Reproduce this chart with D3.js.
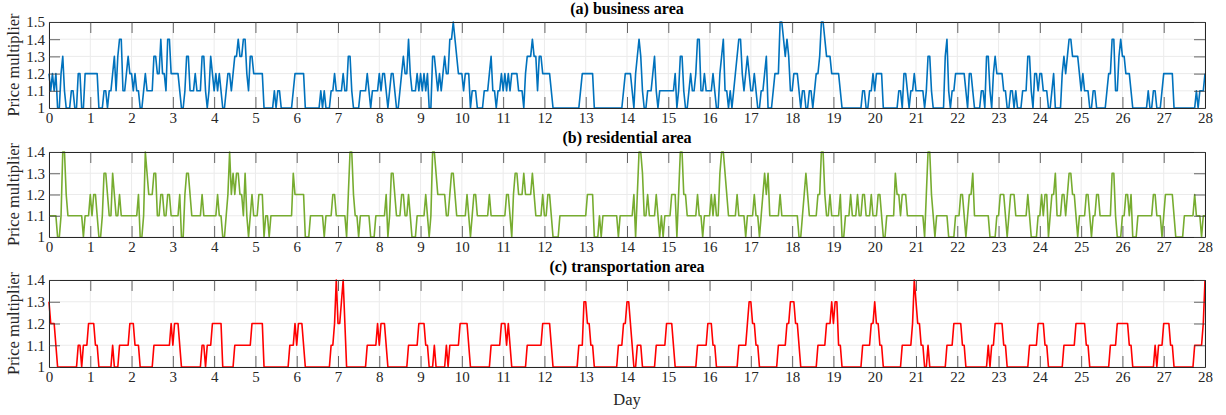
<!DOCTYPE html>
<html>
<head>
<meta charset="utf-8">
<script src="https://cdn.jsdelivr.net/npm/d3@7/dist/d3.min.js"></script>
<style>
  body { margin: 0; background: #fff; }
  svg text { font-family: "Liberation Serif", "Times New Roman", serif; fill: #262626; }
</style>
</head>
<body>
<div id="chart"></div>
<script>
// hourly price multipliers, one row per day (24 values), last row = hour 672
const businessArea = [
  [1.2,1.1,1.2,1.1,1.2,1.0,1.0,1.2,1.3,1.1,1.0,1.0,1.0,1.1,1.1,1.0,1.0,1.2,1.2,1.0,1.0,1.2,1.2,1.2],
  [1.2,1.2,1.2,1.2,1.2,1.0,1.0,1.0,1.1,1.1,1.0,1.1,1.1,1.2,1.3,1.1,1.3,1.4,1.4,1.1,1.1,1.2,1.3,1.2],
  [1.2,1.1,1.2,1.1,1.1,1.0,1.0,1.1,1.2,1.1,1.1,1.1,1.1,1.3,1.3,1.2,1.2,1.4,1.2,1.2,1.1,1.4,1.4,1.2],
  [1.2,1.2,1.2,1.2,1.1,1.0,1.0,1.1,1.3,1.3,1.1,1.1,1.1,1.2,1.1,1.1,1.1,1.3,1.3,1.1,1.0,1.1,1.3,1.2],
  [1.1,1.2,1.1,1.2,1.1,1.0,1.0,1.1,1.2,1.2,1.1,1.2,1.3,1.3,1.4,1.3,1.3,1.4,1.4,1.2,1.1,1.3,1.3,1.2],
  [1.2,1.2,1.2,1.2,1.2,1.0,1.0,1.0,1.0,1.0,1.0,1.1,1.0,1.1,1.1,1.0,1.0,1.0,1.0,1.0,1.0,1.0,1.1,1.2],
  [1.2,1.2,1.2,1.2,1.2,1.0,1.0,1.0,1.0,1.0,1.0,1.0,1.0,1.0,1.1,1.0,1.1,1.0,1.0,1.0,1.1,1.1,1.2,1.1],
  [1.1,1.1,1.1,1.2,1.1,1.1,1.3,1.3,1.1,1.0,1.0,1.0,1.0,1.1,1.1,1.1,1.1,1.2,1.1,1.0,1.1,1.1,1.1,1.1],
  [1.2,1.1,1.2,1.2,1.1,1.0,1.1,1.2,1.2,1.1,1.0,1.0,1.1,1.2,1.3,1.2,1.2,1.4,1.2,1.1,1.1,1.1,1.2,1.1],
  [1.2,1.1,1.2,1.1,1.2,1.0,1.0,1.3,1.3,1.2,1.1,1.2,1.1,1.2,1.3,1.2,1.2,1.4,1.4,1.5,1.4,1.3,1.2,1.2],
  [1.2,1.1,1.2,1.2,1.2,1.0,1.1,1.1,1.1,1.0,1.0,1.0,1.0,1.1,1.1,1.1,1.2,1.3,1.1,1.1,1.0,1.1,1.1,1.2],
  [1.1,1.2,1.1,1.2,1.1,1.2,1.2,1.2,1.2,1.1,1.1,1.1,1.0,1.2,1.3,1.3,1.3,1.4,1.3,1.3,1.1,1.3,1.3,1.2],
  [1.2,1.2,1.2,1.2,1.1,1.0,1.0,1.0,1.0,1.0,1.0,1.0,1.0,1.0,1.0,1.0,1.0,1.0,1.0,1.0,1.0,1.1,1.2,1.2],
  [1.2,1.2,1.2,1.2,1.2,1.0,1.0,1.0,1.0,1.0,1.0,1.0,1.0,1.0,1.0,1.0,1.0,1.0,1.0,1.0,1.0,1.0,1.1,1.2],
  [1.2,1.2,1.2,1.1,1.0,1.2,1.3,1.4,1.3,1.1,1.0,1.0,1.1,1.1,1.1,1.2,1.3,1.1,1.0,1.1,1.1,1.1,1.1,1.1],
  [1.1,1.1,1.1,1.1,1.2,1.0,1.1,1.3,1.3,1.1,1.0,1.0,1.1,1.2,1.1,1.1,1.2,1.4,1.4,1.1,1.1,1.2,1.1,1.1],
  [1.1,1.1,1.2,1.1,1.0,1.0,1.2,1.3,1.4,1.1,1.1,1.0,1.1,1.0,1.1,1.2,1.3,1.4,1.4,1.2,1.1,1.2,1.3,1.2],
  [1.1,1.1,1.2,1.1,1.0,1.0,1.1,1.1,1.2,1.3,1.0,1.0,1.0,1.1,1.2,1.2,1.2,1.5,1.5,1.4,1.3,1.4,1.3,1.1],
  [1.1,1.2,1.2,1.2,1.1,1.0,1.1,1.1,1.0,1.0,1.1,1.1,1.0,1.1,1.2,1.2,1.3,1.5,1.5,1.4,1.3,1.3,1.3,1.2],
  [1.2,1.2,1.2,1.2,1.1,1.0,1.0,1.0,1.0,1.0,1.0,1.0,1.0,1.0,1.0,1.0,1.0,1.1,1.1,1.0,1.0,1.1,1.1,1.2],
  [1.1,1.2,1.2,1.2,1.2,1.0,1.0,1.0,1.0,1.0,1.0,1.0,1.0,1.0,1.1,1.1,1.0,1.2,1.2,1.1,1.0,1.1,1.1,1.2],
  [1.1,1.1,1.1,1.1,1.1,1.0,1.1,1.3,1.3,1.1,1.0,1.0,1.0,1.0,1.0,1.0,1.0,1.3,1.4,1.1,1.0,1.1,1.1,1.2],
  [1.2,1.2,1.2,1.2,1.2,1.1,1.0,1.2,1.2,1.1,1.0,1.0,1.0,1.0,1.1,1.1,1.0,1.3,1.3,1.1,1.0,1.2,1.3,1.2],
  [1.2,1.2,1.2,1.1,1.1,1.0,1.0,1.1,1.1,1.0,1.1,1.0,1.0,1.0,1.1,1.1,1.1,1.3,1.3,1.1,1.0,1.2,1.2,1.1],
  [1.2,1.2,1.1,1.1,1.1,1.0,1.0,1.1,1.2,1.0,1.0,1.0,1.0,1.2,1.3,1.2,1.3,1.4,1.4,1.3,1.3,1.3,1.3,1.2],
  [1.1,1.2,1.1,1.1,1.1,1.0,1.0,1.1,1.1,1.0,1.0,1.0,1.0,1.0,1.0,1.1,1.2,1.2,1.4,1.4,1.1,1.1,1.3,1.4],
  [1.3,1.3,1.2,1.2,1.2,1.1,1.0,1.0,1.0,1.0,1.0,1.0,1.0,1.0,1.0,1.1,1.0,1.0,1.1,1.1,1.0,1.0,1.0,1.1],
  [1.2,1.2,1.2,1.2,1.2,1.2,1.0,1.0,1.0,1.0,1.0,1.0,1.0,1.0,1.0,1.0,1.0,1.0,1.0,1.1,1.0,1.1,1.1,1.1],
  [1.2]
];

const residentialArea = [
  [1.1,1.1,1.1,1.1,1.1,1.0,1.0,1.1,1.4,1.4,1.2,1.1,1.1,1.1,1.1,1.1,1.1,1.1,1.1,1.1,1.0,1.1,1.1,1.1],
  [1.2,1.1,1.2,1.2,1.1,1.0,1.0,1.1,1.3,1.3,1.2,1.1,1.1,1.3,1.2,1.1,1.1,1.2,1.1,1.1,1.1,1.1,1.1,1.1],
  [1.1,1.1,1.1,1.1,1.2,1.0,1.0,1.1,1.4,1.3,1.2,1.2,1.2,1.3,1.3,1.1,1.1,1.2,1.2,1.1,1.1,1.2,1.2,1.1],
  [1.1,1.1,1.1,1.1,1.2,1.0,1.0,1.2,1.3,1.3,1.2,1.1,1.1,1.1,1.1,1.1,1.1,1.2,1.1,1.1,1.1,1.1,1.1,1.1],
  [1.1,1.1,1.2,1.1,1.1,1.0,1.0,1.1,1.2,1.4,1.2,1.3,1.2,1.3,1.3,1.2,1.2,1.1,1.3,1.1,1.0,1.1,1.2,1.1],
  [1.1,1.1,1.2,1.2,1.2,1.0,1.1,1.1,1.0,1.1,1.1,1.1,1.1,1.1,1.1,1.1,1.1,1.1,1.1,1.1,1.1,1.1,1.3,1.2],
  [1.2,1.2,1.2,1.2,1.2,1.0,1.0,1.0,1.1,1.1,1.1,1.1,1.1,1.1,1.1,1.1,1.0,1.1,1.1,1.1,1.1,1.2,1.2,1.1],
  [1.1,1.1,1.1,1.1,1.1,1.0,1.2,1.4,1.4,1.2,1.1,1.1,1.0,1.1,1.1,1.1,1.1,1.1,1.1,1.0,1.0,1.0,1.1,1.1],
  [1.1,1.1,1.1,1.1,1.2,1.0,1.1,1.3,1.3,1.2,1.1,1.1,1.1,1.2,1.2,1.1,1.1,1.2,1.1,1.0,1.0,1.0,1.1,1.1],
  [1.1,1.1,1.1,1.2,1.1,1.0,1.1,1.4,1.4,1.3,1.2,1.2,1.2,1.2,1.2,1.1,1.1,1.2,1.3,1.3,1.2,1.1,1.1,1.1],
  [1.1,1.1,1.1,1.2,1.1,1.0,1.1,1.2,1.2,1.1,1.1,1.1,1.1,1.1,1.1,1.1,1.2,1.1,1.1,1.1,1.1,1.1,1.1,1.1],
  [1.1,1.1,1.2,1.2,1.1,1.0,1.2,1.3,1.3,1.2,1.2,1.2,1.3,1.2,1.2,1.2,1.2,1.3,1.2,1.1,1.1,1.1,1.1,1.2],
  [1.1,1.1,1.2,1.2,1.1,1.0,1.0,1.0,1.0,1.1,1.1,1.1,1.1,1.1,1.1,1.1,1.1,1.1,1.1,1.1,1.1,1.1,1.1,1.1],
  [1.1,1.2,1.2,1.2,1.2,1.0,1.0,1.0,1.1,1.0,1.1,1.1,1.1,1.1,1.1,1.1,1.1,1.1,1.1,1.0,1.1,1.1,1.1,1.1],
  [1.1,1.1,1.1,1.1,1.2,1.0,1.2,1.4,1.4,1.3,1.1,1.1,1.2,1.1,1.1,1.1,1.1,1.2,1.1,1.0,1.1,1.0,1.1,1.1],
  [1.1,1.1,1.2,1.2,1.2,1.0,1.2,1.4,1.4,1.2,1.2,1.1,1.1,1.1,1.1,1.1,1.1,1.2,1.1,1.1,1.0,1.1,1.1,1.1],
  [1.1,1.2,1.1,1.2,1.1,1.1,1.3,1.4,1.4,1.3,1.2,1.1,1.1,1.1,1.1,1.1,1.2,1.1,1.1,1.1,1.1,1.0,1.1,1.1],
  [1.1,1.1,1.2,1.1,1.1,1.0,1.1,1.2,1.3,1.2,1.3,1.1,1.1,1.1,1.1,1.1,1.1,1.2,1.1,1.1,1.1,1.1,1.1,1.1],
  [1.1,1.1,1.1,1.1,1.0,1.0,1.1,1.2,1.3,1.2,1.1,1.1,1.1,1.1,1.1,1.2,1.2,1.4,1.4,1.2,1.1,1.1,1.2,1.1],
  [1.1,1.1,1.1,1.1,1.2,1.0,1.0,1.1,1.1,1.1,1.2,1.1,1.1,1.1,1.2,1.1,1.1,1.2,1.2,1.1,1.1,1.1,1.2,1.1],
  [1.1,1.1,1.2,1.2,1.1,1.0,1.0,1.1,1.1,1.1,1.1,1.1,1.3,1.2,1.2,1.1,1.2,1.2,1.2,1.1,1.1,1.1,1.1,1.1],
  [1.1,1.1,1.1,1.1,1.1,1.0,1.2,1.4,1.4,1.2,1.1,1.0,1.1,1.1,1.1,1.1,1.1,1.1,1.1,1.0,1.0,1.0,1.0,1.1],
  [1.1,1.1,1.2,1.2,1.1,1.0,1.1,1.2,1.2,1.3,1.1,1.1,1.1,1.1,1.1,1.1,1.1,1.1,1.1,1.0,1.0,1.0,1.0,1.1],
  [1.1,1.2,1.2,1.2,1.1,1.0,1.1,1.2,1.2,1.2,1.1,1.1,1.1,1.1,1.1,1.1,1.1,1.2,1.1,1.0,1.0,1.0,1.0,1.1],
  [1.1,1.2,1.1,1.2,1.2,1.0,1.1,1.2,1.2,1.3,1.1,1.1,1.1,1.2,1.2,1.1,1.2,1.3,1.3,1.2,1.2,1.1,1.0,1.1],
  [1.1,1.1,1.1,1.2,1.2,1.1,1.0,1.1,1.1,1.2,1.2,1.1,1.1,1.1,1.1,1.1,1.1,1.1,1.3,1.3,1.1,1.0,1.0,1.0],
  [1.1,1.1,1.2,1.2,1.1,1.2,1.0,1.0,1.0,1.1,1.1,1.1,1.1,1.1,1.1,1.1,1.1,1.1,1.2,1.2,1.1,1.1,1.1,1.0],
  [1.1,1.2,1.2,1.2,1.2,1.2,1.1,1.0,1.0,1.0,1.0,1.0,1.1,1.1,1.1,1.1,1.1,1.1,1.2,1.1,1.1,1.1,1.0,1.1],
  [1.1]
];

const transportationArea = [
  [1.3,1.2,1.2,1.2,1.1,1.0,1.0,1.0,1.0,1.0,1.0,1.0,1.0,1.0,1.0,1.0,1.0,1.1,1.1,1.0,1.1,1.1,1.1,1.2],
  [1.2,1.2,1.2,1.1,1.1,1.0,1.0,1.0,1.0,1.0,1.0,1.0,1.0,1.1,1.0,1.0,1.0,1.1,1.1,1.1,1.1,1.1,1.1,1.2],
  [1.2,1.2,1.1,1.1,1.1,1.0,1.0,1.0,1.0,1.0,1.0,1.0,1.0,1.1,1.1,1.1,1.1,1.1,1.1,1.1,1.1,1.1,1.1,1.2],
  [1.1,1.2,1.2,1.2,1.1,1.0,1.0,1.0,1.0,1.0,1.0,1.0,1.0,1.0,1.0,1.0,1.0,1.1,1.1,1.0,1.1,1.1,1.1,1.2],
  [1.2,1.2,1.2,1.2,1.2,1.0,1.0,1.0,1.0,1.0,1.0,1.0,1.1,1.1,1.1,1.1,1.1,1.1,1.1,1.1,1.1,1.1,1.2,1.2],
  [1.2,1.2,1.2,1.2,1.2,1.0,1.0,1.0,1.0,1.0,1.0,1.0,1.0,1.0,1.0,1.0,1.0,1.0,1.0,1.0,1.1,1.1,1.1,1.2],
  [1.1,1.2,1.2,1.2,1.1,1.0,1.0,1.0,1.0,1.0,1.0,1.0,1.0,1.0,1.0,1.0,1.0,1.0,1.0,1.0,1.1,1.1,1.2,1.4],
  [1.2,1.2,1.3,1.4,1.2,1.0,1.0,1.0,1.0,1.0,1.0,1.0,1.0,1.0,1.0,1.0,1.0,1.1,1.1,1.1,1.1,1.1,1.1,1.2],
  [1.1,1.2,1.2,1.2,1.1,1.0,1.0,1.0,1.0,1.0,1.0,1.0,1.0,1.0,1.0,1.0,1.0,1.1,1.1,1.1,1.1,1.1,1.1,1.2],
  [1.2,1.2,1.2,1.1,1.1,1.0,1.0,1.0,1.1,1.0,1.0,1.0,1.0,1.0,1.0,1.1,1.0,1.1,1.1,1.1,1.1,1.1,1.1,1.2],
  [1.2,1.2,1.2,1.2,1.1,1.0,1.0,1.0,1.0,1.0,1.0,1.0,1.0,1.0,1.0,1.0,1.0,1.1,1.1,1.1,1.1,1.1,1.1,1.2],
  [1.2,1.2,1.1,1.2,1.1,1.0,1.0,1.0,1.0,1.0,1.0,1.0,1.0,1.0,1.1,1.1,1.1,1.1,1.1,1.1,1.1,1.1,1.1,1.2],
  [1.2,1.2,1.2,1.2,1.1,1.0,1.0,1.0,1.0,1.0,1.0,1.0,1.0,1.0,1.0,1.0,1.0,1.0,1.0,1.0,1.1,1.1,1.1,1.3],
  [1.3,1.2,1.2,1.1,1.1,1.0,1.0,1.0,1.0,1.0,1.0,1.0,1.0,1.0,1.0,1.0,1.0,1.0,1.0,1.1,1.1,1.1,1.2,1.2],
  [1.3,1.3,1.2,1.1,1.0,1.0,1.1,1.1,1.1,1.0,1.0,1.0,1.0,1.0,1.0,1.0,1.0,1.1,1.1,1.1,1.1,1.1,1.1,1.2],
  [1.2,1.2,1.2,1.1,1.0,1.0,1.0,1.0,1.0,1.0,1.0,1.0,1.0,1.0,1.0,1.0,1.0,1.1,1.1,1.1,1.1,1.1,1.1,1.2],
  [1.2,1.2,1.1,1.1,1.0,1.0,1.0,1.0,1.0,1.0,1.0,1.0,1.0,1.0,1.0,1.0,1.0,1.1,1.1,1.1,1.1,1.1,1.2,1.3],
  [1.3,1.2,1.2,1.1,1.1,1.0,1.0,1.0,1.0,1.0,1.0,1.0,1.0,1.0,1.0,1.0,1.1,1.1,1.1,1.1,1.1,1.2,1.2,1.3],
  [1.3,1.3,1.2,1.2,1.1,1.0,1.0,1.0,1.0,1.0,1.0,1.0,1.0,1.0,1.0,1.1,1.1,1.1,1.1,1.1,1.2,1.2,1.2,1.3],
  [1.2,1.3,1.3,1.1,1.1,1.0,1.0,1.0,1.0,1.0,1.0,1.0,1.0,1.0,1.0,1.0,1.0,1.1,1.1,1.1,1.1,1.1,1.2,1.2],
  [1.3,1.2,1.2,1.1,1.1,1.0,1.0,1.0,1.0,1.0,1.0,1.0,1.0,1.0,1.0,1.0,1.1,1.1,1.1,1.1,1.1,1.1,1.2,1.4],
  [1.3,1.2,1.2,1.1,1.1,1.0,1.0,1.1,1.0,1.0,1.0,1.0,1.0,1.0,1.0,1.0,1.0,1.0,1.1,1.1,1.1,1.1,1.2,1.2],
  [1.2,1.2,1.2,1.1,1.1,1.0,1.0,1.0,1.0,1.0,1.0,1.0,1.0,1.0,1.0,1.0,1.0,1.0,1.1,1.0,1.1,1.1,1.2,1.2],
  [1.2,1.2,1.2,1.1,1.1,1.0,1.0,1.0,1.0,1.0,1.0,1.0,1.0,1.0,1.0,1.0,1.0,1.0,1.1,1.1,1.1,1.1,1.1,1.2],
  [1.2,1.2,1.2,1.1,1.1,1.0,1.0,1.0,1.0,1.0,1.0,1.0,1.0,1.0,1.1,1.1,1.1,1.1,1.1,1.1,1.1,1.2,1.2,1.2],
  [1.2,1.2,1.2,1.1,1.1,1.0,1.0,1.0,1.0,1.0,1.0,1.0,1.0,1.0,1.0,1.0,1.0,1.1,1.1,1.1,1.1,1.2,1.2,1.2],
  [1.2,1.2,1.2,1.2,1.1,1.1,1.0,1.0,1.0,1.0,1.0,1.0,1.0,1.0,1.0,1.0,1.0,1.0,1.0,1.1,1.0,1.1,1.1,1.1],
  [1.2,1.2,1.2,1.2,1.1,1.1,1.0,1.0,1.0,1.0,1.0,1.0,1.0,1.0,1.0,1.0,1.0,1.0,1.1,1.1,1.1,1.1,1.1,1.2],
  [1.4]
];

const dayTicks = d3.range(0, 29);
const yTicksBusiness = [1, 1.1, 1.2, 1.3, 1.4, 1.5];
const yTicksOther = [1, 1.1, 1.2, 1.3, 1.4];

const W = 1226, H = 415;
const plotLeft = 49, plotRight = 1205;
const tickLen = 11;

const panels = [
  { title: '(a) business area', rows: businessArea, color: '#0072bd', yTicks: yTicksBusiness, top: 22, bottom: 108, titleY: 14 },
  { title: '(b) residential area', rows: residentialArea, color: '#77ac30', yTicks: yTicksOther, top: 152, bottom: 237, titleY: 143 },
  { title: '(c) transportation area', rows: transportationArea, color: '#ff0000', yTicks: yTicksOther, top: 280, bottom: 367, titleY: 272 }
];

const svg = d3.select('#chart').append('svg')
  .attr('width', W).attr('height', H)
  .style('background', '#fff');

const x = d3.scaleLinear().domain([0, 28]).range([plotLeft, plotRight]);

panels.forEach(p => {
  const y = d3.scaleLinear()
    .domain([1, d3.max(p.yTicks)])
    .range([p.bottom, p.top]);

  // flatten day rows into (day, value) points
  const points = [];
  p.rows.forEach((row, d) => row.forEach((v, h) => points.push([d + h / 24, v])));

  const g = svg.append('g');

  // grid
  g.append('g').selectAll('line').data(dayTicks).join('line')
    .attr('x1', d => x(d)).attr('x2', d => x(d))
    .attr('y1', p.top).attr('y2', p.bottom)
    .attr('stroke', '#ebebeb').attr('stroke-width', 1);
  g.append('g').selectAll('line').data(p.yTicks).join('line')
    .attr('x1', plotLeft).attr('x2', plotRight)
    .attr('y1', d => y(d)).attr('y2', d => y(d))
    .attr('stroke', '#ebebeb').attr('stroke-width', 1);

  // series
  g.append('path')
    .datum(points)
    .attr('fill', 'none')
    .attr('stroke', p.color)
    .attr('stroke-width', 1.6)
    .attr('stroke-linejoin', 'round')
    .attr('d', d3.line().x(d => x(d[0])).y(d => y(d[1])));

  // axes, ticks pointing inward
  const bottomAxis = g.append('g')
    .attr('transform', `translate(0,${p.bottom})`)
    .call(d3.axisBottom(x).tickValues(dayTicks).tickSizeInner(-tickLen).tickSizeOuter(0).tickFormat(d3.format('d')));
  bottomAxis.selectAll('text').attr('y', 15).attr('dy', null).style('font-size', '15px');

  g.append('g')
    .attr('transform', `translate(0,${p.top})`)
    .call(d3.axisTop(x).tickValues(dayTicks).tickSizeInner(-tickLen).tickSizeOuter(0).tickFormat(''));

  const leftAxis = g.append('g')
    .attr('transform', `translate(${plotLeft},0)`)
    .call(d3.axisLeft(y).tickValues(p.yTicks).tickSizeInner(-tickLen).tickSizeOuter(0).tickFormat(d => String(d)));
  leftAxis.selectAll('text').attr('x', -4).style('font-size', '15px');

  g.append('g')
    .attr('transform', `translate(${plotRight},0)`)
    .call(d3.axisRight(y).tickValues(p.yTicks).tickSizeInner(-tickLen).tickSizeOuter(0).tickFormat(''));

  g.selectAll('.domain').attr('stroke', '#262626').attr('stroke-width', 1);
  g.selectAll('.tick line').attr('stroke', '#404040').attr('stroke-width', 0.8);

  // title
  g.append('text')
    .attr('x', (plotLeft + plotRight) / 2).attr('y', p.titleY)
    .attr('text-anchor', 'middle')
    .style('font-size', '16px').style('font-weight', 'bold')
    .style('fill', '#000')
    .text(p.title);

  // y label
  g.append('text')
    .attr('transform', `translate(19,${(p.top + p.bottom) / 2}) rotate(-90)`)
    .attr('text-anchor', 'middle')
    .style('font-size', '16.5px')
    .text('Price multiplier');
});

svg.append('text')
  .attr('x', (plotLeft + plotRight) / 2).attr('y', 405)
  .attr('text-anchor', 'middle')
  .style('font-size', '16.5px')
  .text('Day');
</script>
</body>
</html>
